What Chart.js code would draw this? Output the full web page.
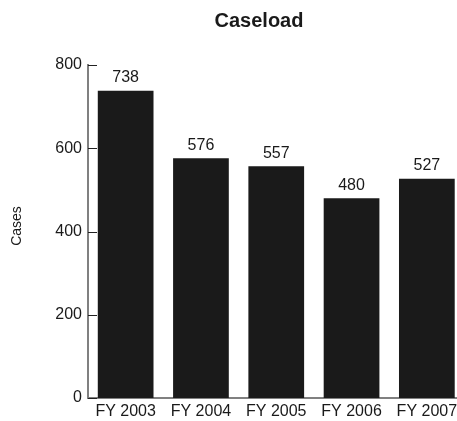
<!DOCTYPE html>
<html>
<head>
<meta charset="utf-8">
<script src="https://cdn.jsdelivr.net/npm/chart.js@4"></script>
<style>
  body { margin: 0; overflow: hidden; background: #fff; }
  #wrap { width: 470px; height: 421px; }
</style>
</head>
<body>
<div id="wrap"><canvas id="myChart"></canvas></div>
<script>
// data
const years = ['FY 2003', 'FY 2004', 'FY 2005', 'FY 2006', 'FY 2007'];
const cases = [738, 576, 557, 480, 527];
const yTicks = [0, 200, 400, 600, 800];

const FONT = '"Liberation Sans", Arial, sans-serif';

// labels, inner ticks, titles
const extras = {
    id: 'extras',
    afterDatasetsDraw(chart) {
        const c = chart.ctx;
        const y = chart.scales.y;
        const area = chart.chartArea;
        c.save();
        // small ticks pointing into the plot
        c.strokeStyle = '#222';
        c.lineWidth = 1;
        yTicks.forEach(v => {
            const py = Math.round(y.getPixelForValue(v)) + 0.5;
            c.beginPath();
            c.moveTo(area.left, py);
            c.lineTo(area.left + 9, py);
            c.stroke();
        });
        // value on top of each bar
        c.fillStyle = '#1a1a1a';
        c.font = '16px ' + FONT;
        c.textAlign = 'center';
        c.textBaseline = 'bottom';
        chart.getDatasetMeta(0).data.forEach((bar, i) => {
            c.fillText(String(cases[i]), bar.x, bar.y - 5);
        });
        // title
        c.font = 'bold 20px ' + FONT;
        c.textBaseline = 'middle';
        c.fillText('Caseload', 259, 21);
        // y axis title
        c.font = '14px ' + FONT;
        c.translate(17, 226);
        c.rotate(-Math.PI / 2);
        c.fillText('Cases', 0, 0);
        c.restore();
    }
};

new Chart(document.getElementById('myChart'), {
    type: 'bar',
    data: {
        labels: years,
        datasets: [{
            data: cases,
            backgroundColor: '#1a1a1a',
            categoryPercentage: 1,
            barPercentage: 0.74
        }]
    },
    options: {
        responsive: true,
        maintainAspectRatio: false,
        animation: false,
        layout: { padding: { top: 65, right: 5.5, left: 0, bottom: 0 } },
        plugins: {
            legend: { display: false },
            title: { display: false },
            tooltip: { enabled: false }
        },
        scales: {
            x: {
                grid: { display: false, drawTicks: false },
                border: { display: true, color: '#808080', width: 2 },
                ticks: { color: '#1a1a1a', font: { family: FONT, size: 16 }, padding: 4, maxRotation: 0 },
                afterFit: (s) => { s.height = 23; }
            },
            y: {
                min: 0,
                max: 800,
                afterBuildTicks: (s) => { s.ticks = yTicks.map(v => ({ value: v })); },
                grid: { display: false, drawTicks: false },
                border: { display: true, color: '#808080', width: 2 },
                ticks: { color: '#1a1a1a', font: { family: FONT, size: 16 }, padding: 6 },
                afterFit: (s) => { s.width = 88; }
            }
        }
    },
    plugins: [extras]
});
</script>
</body>
</html>
